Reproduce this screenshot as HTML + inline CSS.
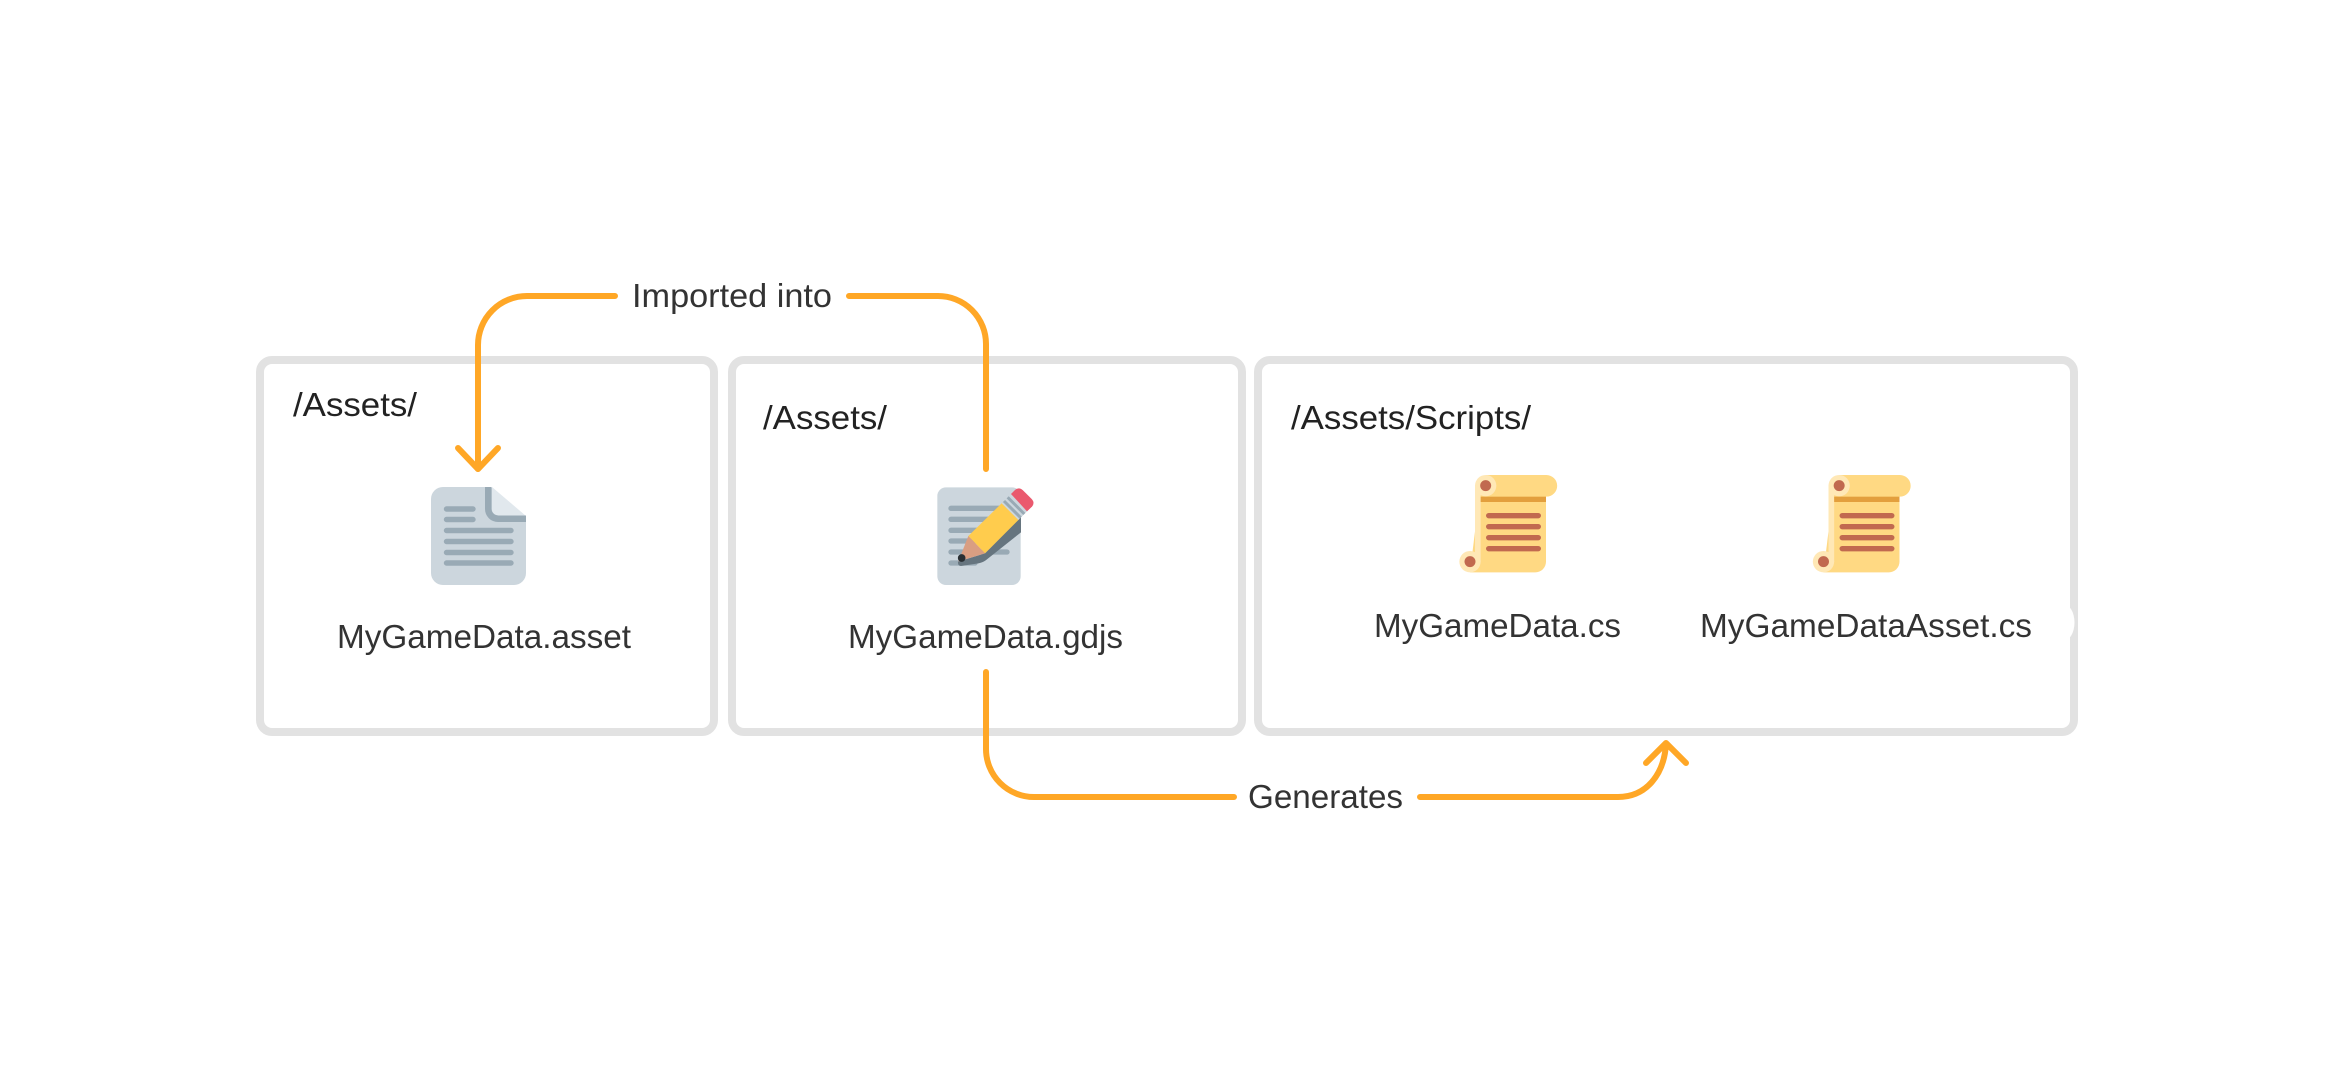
<!DOCTYPE html>
<html><head><meta charset="utf-8"><style>
html,body{margin:0;padding:0;background:#fff;width:2334px;height:1092px;overflow:hidden}
svg{display:block}
text{font-family:"Liberation Sans",sans-serif;font-size:33px;fill:#333}
.h{fill:#222}
</style></head><body>
<svg width="2334" height="1092" viewBox="0 0 2334 1092" xmlns="http://www.w3.org/2000/svg">
<rect width="2334" height="1092" fill="#fff"/>
<g fill="#fff" stroke="#e2e2e2" stroke-width="8">
<rect x="260" y="360" width="454" height="372" rx="12"/>
<rect x="732" y="360" width="510" height="372" rx="12"/>
<rect x="1258" y="360" width="816" height="372" rx="12"/>
</g>
<ellipse cx="2064" cy="622.5" rx="10.5" ry="18" fill="#fff"/>

<g fill="none" stroke="#ffa726" stroke-width="6" stroke-linecap="round" stroke-linejoin="round">
<path d="M615 296H527A49 49 0 0 0 478 345V469"/>
<path d="M458 448L478 469L498 448"/>
<path d="M849 296H938A48 48 0 0 1 986 344V469"/>
<path d="M986 672V749A48 48 0 0 0 1034 797H1234"/>
<path d="M1420 797H1618C1646 797 1664 775 1666 744"/>
<path d="M1646 763L1666 743L1686 763"/>
</g>

<text x="632" y="307" textLength="200" lengthAdjust="spacingAndGlyphs">Imported into</text>
<text x="1248" y="808" textLength="155" lengthAdjust="spacingAndGlyphs">Generates</text>
<text class="h" x="293" y="416" textLength="124" lengthAdjust="spacingAndGlyphs">/Assets/</text>
<text class="h" x="763" y="429" textLength="124" lengthAdjust="spacingAndGlyphs">/Assets/</text>
<text class="h" x="1291" y="429" textLength="240" lengthAdjust="spacingAndGlyphs">/Assets/Scripts/</text>
<text x="337" y="648" textLength="294" lengthAdjust="spacingAndGlyphs">MyGameData.asset</text>
<text x="848" y="648" textLength="275" lengthAdjust="spacingAndGlyphs">MyGameData.gdjs</text>
<text x="1374" y="637" textLength="247" lengthAdjust="spacingAndGlyphs">MyGameData.cs</text>
<text x="1700" y="637" textLength="332" lengthAdjust="spacingAndGlyphs">MyGameDataAsset.cs</text>

<!-- document icon -->
<g>
<path d="M443 487H491L526 517V573A12 12 0 0 1 514 585H443A12 12 0 0 1 431 573V499A12 12 0 0 1 443 487Z" fill="#ccd6dd"/>
<path d="M492 487L526 516V518H500A8 8 0 0 1 492 510Z" fill="#e1e8ed"/>
<path d="M485 487H491.500V508A7 7 0 0 0 498.500 515.500H526V522H498A13 13 0 0 1 485 509Z" fill="#99aab5"/>
<g stroke="#99aab5" stroke-width="5.400" stroke-linecap="round">
<path d="M446.500 509H473M446.500 519.500H473M446.500 530.500H511M446.500 541.500H511M446.500 552.500H511M446.500 563H511"/>
</g>
</g>

<!-- pencil icon -->
<g transform="translate(925 475) scale(.33333)">
<rect x="37" y="37" width="250" height="293" rx="26" fill="#ccd6dd"/>
<g stroke="#99aab5" stroke-width="16" stroke-linecap="round">
<path d="M78 100H230M78 133H230M78 166H200M78 198H170M78 231H246M78 264H150"/>
</g>
<path d="M288 126V172L182 256Q172 263 160 265L108 273Q98 273 99 260L180 235Z" fill="#66757f"/>
<path d="M130 183L232 83L282 133L180 235Z" fill="#ffcc4d"/>
<path d="M130 183L180 235L100 259Z" fill="#d99e82"/>
<circle cx="110" cy="249" r="11.500" fill="#292f33"/>
<path d="M230 85L262 53L312 103L280 135Z" fill="#ccd6dd"/>
<path d="M237 78L287 128M248 67L298 117" stroke="#99aab5" stroke-width="9" fill="none"/>
<path d="M258 57L270 45Q282 35 294 46L319 71Q331 83 321 95L306 109Z" fill="#ea596e"/>
</g>

<!-- scroll icons -->
<g transform="translate(1445 465) scale(.33333)">
<path d="M107 60H303V290A32 32 0 0 1 271 322H75Z" fill="#ffd983"/>
<path d="M122 30H304A32.500 32.500 0 0 1 304 95H122Z" fill="#ffd983"/>
<rect x="90" y="60" width="17" height="230" fill="#ffe8b6"/>
<circle cx="75" cy="290" r="32" fill="#ffe8b6"/>
<circle cx="122" cy="62" r="32" fill="#ffe8b6"/>
<circle cx="122" cy="62" r="16.500" fill="#c1694f"/>
<circle cx="75" cy="290" r="16.500" fill="#c1694f"/>
<rect x="107" y="95" width="196" height="16" fill="#e39f3d"/>
<g stroke="#c1694f" stroke-width="16" stroke-linecap="round">
<path d="M131 152H280M131 185H280M131 218H280M131 251H280"/>
</g>
</g>
<g transform="translate(1798.500 465) scale(.33333)">
<path d="M107 60H303V290A32 32 0 0 1 271 322H75Z" fill="#ffd983"/>
<path d="M122 30H304A32.500 32.500 0 0 1 304 95H122Z" fill="#ffd983"/>
<rect x="90" y="60" width="17" height="230" fill="#ffe8b6"/>
<circle cx="75" cy="290" r="32" fill="#ffe8b6"/>
<circle cx="122" cy="62" r="32" fill="#ffe8b6"/>
<circle cx="122" cy="62" r="16.500" fill="#c1694f"/>
<circle cx="75" cy="290" r="16.500" fill="#c1694f"/>
<rect x="107" y="95" width="196" height="16" fill="#e39f3d"/>
<g stroke="#c1694f" stroke-width="16" stroke-linecap="round">
<path d="M131 152H280M131 185H280M131 218H280M131 251H280"/>
</g>
</g>
</svg>
</body></html>
